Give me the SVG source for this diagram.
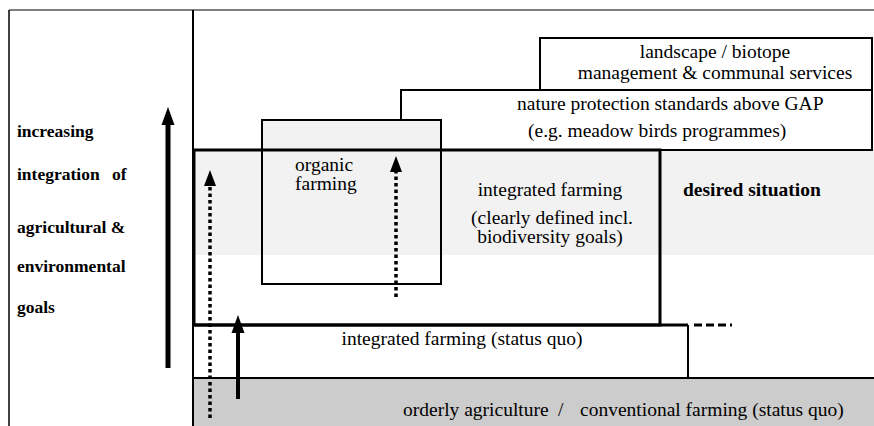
<svg xmlns="http://www.w3.org/2000/svg" width="874" height="426" viewBox="0 0 874 426">
<style>
  .t { font-family: "Liberation Serif", "Times New Roman", serif; font-size: 19.5px; fill: #000; }
  .b { font-family: "Liberation Serif", "Times New Roman", serif; font-weight: bold; fill: #000; }
  .lbl { font-size: 17.5px; }
  .box { fill: #fff; stroke: #000; stroke-width: 2; }
  .thin { stroke: #000; stroke-width: 2; fill: none; }
  .thick { stroke: #000; stroke-width: 3; fill: none; }
  .solid { stroke: #000; fill: none; }
  .dot { stroke: #000; fill: none; stroke-width: 3.5; stroke-dasharray: 3.5 3; }
</style>
<defs>
  <marker id="headSolid" markerUnits="userSpaceOnUse" markerWidth="20" markerHeight="14" refX="0" refY="6.5" orient="auto" overflow="visible">
    <path d="M0,0 L18,6.5 L0,13 z" fill="#000"/>
  </marker>
  <marker id="headDot" markerUnits="userSpaceOnUse" markerWidth="18" markerHeight="13" refX="0" refY="6" orient="auto" overflow="visible">
    <path d="M0,0 L16,6 L0,12 z" fill="#000"/>
  </marker>
</defs>
<rect width="874" height="426" fill="#fff"/>

<g id="frame">
  <line x1="9" y1="10" x2="874" y2="10" stroke="#808080" stroke-width="2"/>
  <line x1="9" y1="10" x2="9" y2="426" stroke="#000" stroke-width="1.5"/>
  <line x1="193" y1="10" x2="193" y2="426" stroke="#000" stroke-width="2"/>
</g>

<rect id="band" x="194" y="150" width="680" height="105" fill="#f2f2f2"/>

<g id="landscape">
  <rect class="box" x="540" y="38" width="332" height="52"/>
  <text class="t" x="715" y="58" text-anchor="middle">landscape / biotope</text>
  <text class="t" x="715" y="79" text-anchor="middle">management &amp; communal services</text>
</g>

<g id="nature">
  <rect class="box" x="401" y="90" width="471" height="60"/>
  <text class="t" x="517" y="110">nature protection standards above GAP</text>
  <text class="t" x="528" y="137">(e.g. meadow birds programmes)</text>
</g>

<g id="organic">
  <rect x="262" y="120" width="179" height="135" fill="#f2f2f2"/>
  <rect class="thin" x="262" y="120" width="179" height="164"/>
  <text class="t" x="295" y="171">organic</text>
  <text class="t" x="295" y="190">farming</text>
</g>

<g id="integrated-desired">
  <rect class="thick" x="194" y="150" width="466" height="175"/>
  <text class="t" x="550" y="196" text-anchor="middle">integrated farming</text>
  <text class="t" x="552" y="224" text-anchor="middle">(clearly defined incl.</text>
  <text class="t" x="550" y="243" text-anchor="middle">biodiversity goals)</text>
</g>

<g id="desired-situation">
  <text class="b" x="683" y="196" style="font-size:19.5px">desired situation</text>
</g>

<g id="status-quo">
  <line class="thick" x1="193" y1="325" x2="688" y2="325"/>
  <line class="thin" x1="688" y1="325" x2="688" y2="378"/>
  <text class="t" x="462" y="345" text-anchor="middle">integrated farming (status quo)</text>
</g>

<g id="conventional">
  <rect x="194" y="378" width="680" height="48" fill="#cccccc"/>
  <line class="thin" x1="193" y1="378" x2="874" y2="378"/>
  <text class="t" y="416"><tspan x="403">orderly agriculture</tspan><tspan x="558">/</tspan><tspan x="580">conventional farming (status quo)</tspan></text>
</g>

<g id="axis-label">
  <text class="b lbl" x="17" y="137">increasing</text>
  <text class="b lbl" y="180"><tspan x="17">integration</tspan><tspan x="112">of</tspan></text>
  <text class="b lbl" x="17" y="233">agricultural &amp;</text>
  <text class="b lbl" x="17" y="272">environmental</text>
  <text class="b lbl" x="17" y="313">goals</text>
</g>

<g id="connectors">
  <line class="solid" x1="168" y1="368" x2="168" y2="125" stroke-width="5" marker-end="url(#headSolid)"/>
  <line class="solid" x1="238" y1="399" x2="238" y2="333" stroke-width="4" marker-end="url(#headSolid)"/>
  <line class="dot" x1="210" y1="418" x2="210" y2="186" marker-end="url(#headDot)"/>
  <line class="dot" x1="396" y1="297" x2="396" y2="172" marker-end="url(#headDot)"/>
  <line x1="694" y1="325" x2="732" y2="325" stroke="#000" stroke-width="3" stroke-dasharray="8 4"/>
</g>
</svg>
